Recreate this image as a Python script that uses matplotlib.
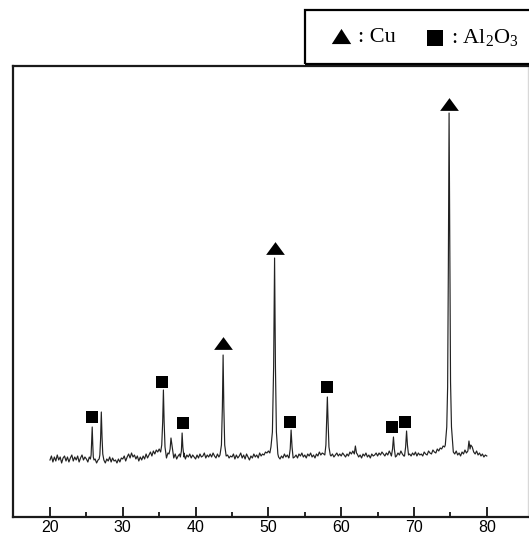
import numpy as np
import matplotlib
matplotlib.use("Agg")
import matplotlib.pyplot as plt
from matplotlib.patches import Rectangle
from matplotlib.lines import Line2D
from matplotlib.path import Path

plt.rcParams['font.family'] = ['Liberation Sans', 'DejaVu Sans']
plt.rcParams['mathtext.fontset'] = 'custom'
plt.rcParams['mathtext.rm'] = 'Liberation Serif'
plt.rcParams['mathtext.it'] = 'Liberation Serif:italic'

# ---- scan: background (regular 0.2 deg steps from 20 to 80) ----
scan_start = 20.0
scan_step = 0.2
background = [
    57, 61, 55, 60, 56, 62, 57, 60, 54, 59, 61, 56, 60, 55, 59, 62, 56, 60, 57, 61, 55, 59, 62, 57, 60,  # 20
    58, 55, 60, 57, 61, 56, 58, 54, 57, 55, 59, 55, 58, 54, 58, 56, 60, 55, 59, 56, 57, 54, 58, 55, 59,  # 25
    58, 61, 56, 60, 63, 59, 64, 60, 62, 58, 61, 56, 60, 57, 61, 58, 63, 59, 62, 65, 61, 66, 63, 67, 65,  # 30
    68, 70, 66, 64, 62, 59, 64, 60, 58, 62, 59, 63, 58, 61, 63, 57, 61, 64, 58, 62, 60, 63, 59, 62, 60,  # 35
    58, 62, 59, 63, 60, 61, 64, 59, 62, 60, 63, 60, 64, 61, 59, 63, 60, 62, 59, 61, 63, 60, 62, 59, 61,  # 40
    60, 63, 58, 62, 59, 61, 64, 59, 62, 58, 63, 60, 57, 61, 59, 63, 60, 62, 59, 64, 61, 63, 62, 65, 64,  # 45
    66, 64, 68, 67, 71, 66, 62, 60, 58, 61, 59, 63, 60, 62, 59, 64, 61, 63, 60, 62, 59, 63, 61, 64, 60,  # 50
    62, 59, 63, 61, 64, 60, 62, 59, 63, 61, 65, 62, 64, 63, 61, 62, 60, 64, 61, 63, 60, 62, 64, 61, 63,  # 55
    61, 64, 62, 60, 63, 61, 65, 63, 66, 64, 61, 63, 60, 62, 59, 63, 61, 64, 60, 62, 59, 63, 61, 62, 64,  # 60
    61, 64, 62, 65, 63, 61, 64, 62, 66, 63, 62, 65, 63, 61, 64, 62, 66, 63, 61, 64, 62, 65, 63, 61, 64,  # 65
    62, 65, 61, 64, 62, 63, 61, 65, 63, 62, 66, 64, 63, 67, 65, 64, 68, 66, 69, 68, 71, 70, 72, 73, 74,  # 70
    72, 68, 65, 63, 66, 62, 64, 61, 65, 63, 67, 64, 68, 66, 72, 70, 65, 63, 66, 62, 64, 61, 63, 60, 62,  # 75
    61,                                                                                                  # 80
]

# ---- diffraction peaks: (2theta, intensity) points of each reflection ----
peak_25_8 = [(25.55, 58), (25.65, 62), (25.72, 75), (25.80, 90), (25.88, 72), (25.95, 60), (26.05, 57)]
peak_27_1 = [(26.75, 58), (26.85, 62), (26.95, 78), (27.05, 105), (27.15, 80), (27.25, 63), (27.40, 57)]
peak_35_6 = [(35.20, 65), (35.35, 72), (35.48, 95), (35.58, 127), (35.68, 95), (35.80, 70), (35.95, 62)]
peak_36_7 = [(36.35, 63), (36.50, 68), (36.62, 79), (36.75, 72), (36.90, 64)]
peak_38_2 = [(37.90, 60), (38.05, 66), (38.15, 84), (38.25, 70), (38.40, 60)]
peak_43_8 = [(43.35, 62), (43.55, 72), (43.68, 110), (43.78, 162), (43.88, 110), (44.00, 72), (44.20, 61)]
peak_50_9 = [(50.35, 70), (50.55, 85), (50.72, 150), (50.85, 259), (50.97, 150), (51.10, 85), (51.30, 63)]
peak_53_1 = [(52.85, 60), (53.00, 68), (53.12, 87), (53.25, 70), (53.40, 59)]
peak_58_1 = [(57.75, 62), (57.90, 72), (58.02, 100), (58.10, 120), (58.20, 95), (58.32, 70), (58.50, 62)]
peak_62_0 = [(61.80, 63), (61.95, 71), (62.10, 64)]
peak_67_2 = [(66.90, 61), (67.05, 68), (67.18, 80), (67.30, 68), (67.45, 60)]
peak_69_0 = [(68.70, 61), (68.85, 70), (68.98, 86), (69.10, 72), (69.25, 62)]
peak_74_8 = [(74.30, 72), (74.50, 90), (74.62, 130), (74.72, 250), (74.82, 404), (74.92, 260),
             (75.02, 135), (75.15, 90), (75.35, 70)]
peak_77_6 = [(77.40, 66), (77.55, 76), (77.70, 68)]
peaks = [peak_25_8, peak_27_1, peak_35_6, peak_36_7, peak_38_2, peak_43_8, peak_50_9,
         peak_53_1, peak_58_1, peak_62_0, peak_67_2, peak_69_0, peak_74_8, peak_77_6]

# ---- phase markers ----
cu_theta = [43.78, 50.85, 74.82]
cu_level = [174, 269, 413]
al2o3_theta = [25.78, 35.40, 38.30, 53.00, 58.10, 67.00, 68.80]
al2o3_level = [100, 135, 94, 95, 130, 90, 95]

xticks = [20, 30, 40, 50, 60, 70, 80]

# ---- assemble scan ----
bg_theta = [scan_start + scan_step * i for i in range(len(background))]
pts = []
for t, v in zip(bg_theta, background):
    if not any(p[0][0] <= t <= p[-1][0] for p in peaks):
        pts.append((t, v))
for p in peaks:
    pts.extend(p)
pts.sort()
theta = [p[0] for p in pts]
inten = [p[1] for p in pts]

W, H = 529, 543
fig = plt.figure(figsize=(W / 100, H / 100), dpi=100)
ax = fig.add_axes([13 / W, 1 - 517 / H, (528 - 13) / W, (517 - 66) / H])
ax.plot(theta, inten, color='#222222', lw=0.85)

tri = Path([(-1, -0.68), (1, -0.68), (0, 0.68), (-1, -0.68)],
           [Path.MOVETO, Path.LINETO, Path.LINETO, Path.CLOSEPOLY])
tri_leg = Path([(-1, -0.78), (1, -0.78), (0, 0.78), (-1, -0.78)],
               [Path.MOVETO, Path.LINETO, Path.LINETO, Path.CLOSEPOLY])
ax.plot(cu_theta, cu_level, linestyle='none', marker=tri, ms=13.5, mew=0, color='black')
ax.plot(al2o3_theta, al2o3_level, linestyle='none', marker='s', ms=9, mew=0, color='black')

ax.set_xlim(14.92, 85.66)
ax.set_ylim(0, 451)
ax.set_xticks(xticks)
ax.set_xticks([25, 35, 45, 55, 65, 75], minor=True)
ax.set_yticks([])
ax.tick_params(axis='x', which='major', direction='in', length=7, width=1.2,
               labelsize=11.5, pad=2.5, colors='black')
ax.tick_params(axis='x', which='minor', direction='in', length=3.5, width=1.2)
for s in ax.spines.values():
    s.set_linewidth(1.6)
    s.set_color('#1a1a1a')
ax.spines['right'].set_color('#d8d8d8')
ax.spines['right'].set_linewidth(1.0)

# ---- legend box (figure coordinates in pixels) ----
def fx(px):
    return px / W

def fy(py):
    return 1 - py / H

fig.patches.append(Rectangle((fx(305), fy(64)), fx(240), 54 / H, transform=fig.transFigure,
                             fill=False, edgecolor='black', lw=1.6))
fig.add_artist(Line2D([fx(341)], [fy(36)], marker=tri_leg, ms=14, mew=0, color='black',
                      transform=fig.transFigure))
fig.add_artist(Line2D([fx(435)], [fy(38)], marker='s', ms=11.5, mew=0, color='black',
                      transform=fig.transFigure))
fig.text(fx(358), fy(37), ': Cu', fontsize=16, family='Liberation Serif', va='center', ha='left')
fig.text(fx(451), fy(37), r': Al$_2$O$_3$', fontsize=16, family='Liberation Serif',
         va='center', ha='left')

fig.savefig('out.png', dpi=100)
